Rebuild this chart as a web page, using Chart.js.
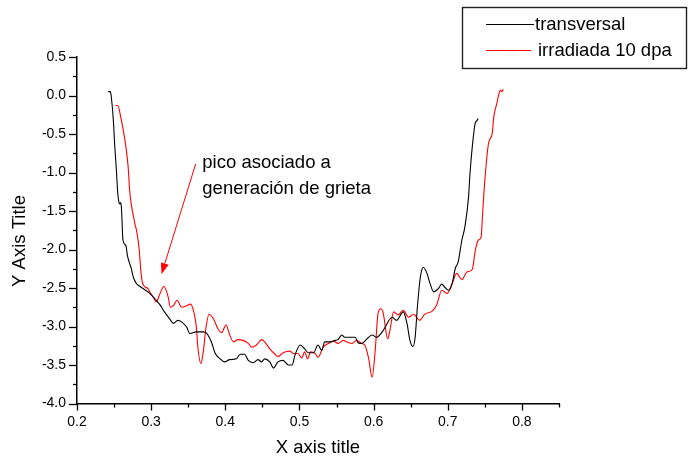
<!DOCTYPE html>
<html lang="es">
<head>
<meta charset="UTF-8">
<title>transversal / irradiada</title>
<style>
  body { margin: 0; background: #fff; }
</style>
</head>
<body>
<canvas id="myChart" width="688" height="461"></canvas>
<script src="https://cdn.jsdelivr.net/npm/chart.js"></script>
<script>
  // curva "transversal"
  const xTransversal = [0.242,0.245,0.246,0.249,0.251,0.253,0.255,0.257,0.258,0.259,
    0.260,0.262,0.266,0.268,0.273,0.276,0.280,0.285,0.291,0.298,
    0.305,0.312,0.318,0.325,0.330,0.336,0.341,0.348,0.352,0.361,
    0.370,0.375,0.382,0.386,0.393,0.399,0.406,0.415,0.420,0.426,
    0.431,0.438,0.444,0.449,0.453,0.460,0.465,0.471,0.478,0.485,
    0.490,0.494,0.501,0.507,0.512,0.519,0.525,0.530,0.534,0.541,
    0.548,0.552,0.557,0.561,0.568,0.575,0.579,0.584,0.591,0.598,
    0.604,0.613,0.625,0.631,0.640,0.645,0.649,0.653,0.656,0.659,
    0.663,0.667,0.672,0.676,0.681,0.687,0.692,0.696,0.701,0.706,
    0.710,0.714,0.719,0.723,0.728,0.730,0.733,0.737,0.739,0.741];
  const yTransversal = [0.05,0.05,0.00,-0.32,-0.67,-0.95,-1.27,-1.40,-1.41,-1.39,
    -1.47,-1.88,-1.95,-2.08,-2.24,-2.36,-2.44,-2.48,-2.52,-2.57,
    -2.64,-2.72,-2.81,-2.90,-2.96,-2.92,-2.94,-3.01,-3.09,-3.07,
    -3.07,-3.09,-3.22,-3.34,-3.42,-3.46,-3.43,-3.42,-3.36,-3.36,
    -3.44,-3.47,-3.43,-3.46,-3.42,-3.46,-3.54,-3.46,-3.44,-3.50,
    -3.50,-3.37,-3.24,-3.29,-3.34,-3.34,-3.24,-3.31,-3.20,-3.20,
    -3.18,-3.17,-3.11,-3.14,-3.14,-3.14,-3.21,-3.22,-3.16,-3.11,
    -3.14,-3.05,-2.88,-2.92,-2.81,-2.96,-3.18,-3.26,-3.14,-2.75,
    -2.36,-2.23,-2.31,-2.44,-2.55,-2.51,-2.45,-2.49,-2.53,-2.44,
    -2.25,-2.16,-1.88,-1.71,-1.32,-1.01,-0.67,-0.36,-0.33,-0.30];

  // curva "irradiada 10 dpa"
  const xIrradiada = [0.252,0.255,0.259,0.262,0.266,0.269,0.271,0.273,0.278,0.281,
    0.284,0.286,0.288,0.291,0.296,0.298,0.303,0.307,0.312,0.317,
    0.321,0.323,0.326,0.330,0.335,0.341,0.348,0.353,0.358,0.361,
    0.363,0.367,0.370,0.374,0.378,0.384,0.390,0.395,0.401,0.406,
    0.411,0.417,0.424,0.431,0.436,0.442,0.449,0.453,0.460,0.467,
    0.471,0.478,0.487,0.492,0.498,0.503,0.507,0.511,0.515,0.521,
    0.525,0.532,0.539,0.546,0.552,0.559,0.564,0.571,0.577,0.584,
    0.588,0.593,0.598,0.602,0.606,0.610,0.613,0.619,0.622,0.627,
    0.633,0.640,0.647,0.654,0.662,0.669,0.679,0.685,0.692,0.699,
    0.706,0.712,0.719,0.726,0.733,0.737,0.741,0.745,0.747,0.750,
    0.755,0.760,0.762,0.766,0.771,0.773,0.775];
  const yIrradiada = [-0.13,-0.13,-0.28,-0.43,-0.67,-0.93,-1.23,-1.40,-1.66,-1.79,
    -2.01,-2.27,-2.42,-2.48,-2.51,-2.55,-2.62,-2.68,-2.57,-2.48,
    -2.55,-2.62,-2.75,-2.73,-2.66,-2.75,-2.73,-2.71,-2.83,-3.01,
    -3.27,-3.48,-3.35,-3.01,-2.84,-2.90,-3.03,-3.08,-2.98,-3.11,
    -3.20,-3.17,-3.18,-3.22,-3.27,-3.24,-3.17,-3.20,-3.29,-3.36,
    -3.39,-3.34,-3.32,-3.35,-3.35,-3.41,-3.33,-3.42,-3.33,-3.35,
    -3.40,-3.27,-3.22,-3.19,-3.22,-3.18,-3.20,-3.22,-3.18,-3.22,
    -3.24,-3.40,-3.66,-3.33,-2.83,-2.77,-2.83,-3.16,-3.05,-2.81,
    -2.85,-2.79,-2.88,-2.84,-2.92,-2.84,-2.80,-2.72,-2.53,-2.57,
    -2.44,-2.31,-2.39,-2.29,-2.26,-2.02,-1.88,-1.84,-1.53,-1.10,
    -0.62,-0.49,-0.28,-0.11,0.07,0.05,0.08];

  const seriesLabels = ['transversal', 'irradiada 10 dpa'];
  const xTitle = 'X axis title';
  const yTitle = 'Y Axis Title';
  const noteLines = ['pico asociado a', 'generación de grieta'];
  // flecha: desde el texto hasta el pico (coordenadas de datos)
  const arrowFrom = { x: 0.360, y: -0.89 };
  const arrowTo = { x: 0.314, y: -2.32 };
  const noteAt = { x: 0.369, y: -0.88, y2: -1.21 };

  const FONT = "'Liberation Sans', Arial, sans-serif";
  Chart.defaults.font.family = FONT;
  Chart.defaults.color = '#000';

  const toPoints = (xs, ys) => xs.map((x, i) => ({ x: x, y: ys[i] }));
  const isMajorX = v => Math.round(v * 100) % 10 === 0;
  const isMajorY = v => Math.round(v * 100) % 50 === 0;

  // ticks, titulos, anotacion y leyenda
  const decorations = {
    id: 'decorations',
    afterDraw(chart) {
      const c = chart.ctx;
      const area = chart.chartArea;
      const xs = chart.scales.x, ys = chart.scales.y;
      c.save();
      c.strokeStyle = '#000';
      c.lineWidth = 1.3;
      xs.ticks.forEach(t => {
        const px = Math.round(xs.getPixelForValue(t.value)) + 0.5;
        const len = isMajorX(t.value) ? 7 : 4;
        c.beginPath();
        c.moveTo(px, area.bottom);
        c.lineTo(px, area.bottom + len);
        c.stroke();
      });
      ys.ticks.forEach(t => {
        const py = Math.round(ys.getPixelForValue(t.value)) + 0.5;
        const len = isMajorY(t.value) ? 8 : 4;
        c.beginPath();
        c.moveTo(area.left - len, py);
        c.lineTo(area.left, py);
        c.stroke();
      });

      // titulos de ejes
      c.fillStyle = '#000';
      c.font = '18.5px ' + FONT;
      c.textAlign = 'center';
      c.textBaseline = 'middle';
      c.fillText(xTitle, (area.left + area.right) / 2, 448);
      c.save();
      c.translate(20, 241);
      c.rotate(-Math.PI / 2);
      c.fillText(yTitle, 0, 0);
      c.restore();

      // anotacion con flecha roja
      const x0 = xs.getPixelForValue(arrowFrom.x), y0 = ys.getPixelForValue(arrowFrom.y);
      const x1 = xs.getPixelForValue(arrowTo.x), y1 = ys.getPixelForValue(arrowTo.y);
      const ang = Math.atan2(y1 - y0, x1 - x0);
      const head = 11, half = 4;
      c.strokeStyle = '#ff0000';
      c.fillStyle = '#ff0000';
      c.lineWidth = 1;
      c.beginPath();
      c.moveTo(x0, y0);
      c.lineTo(x1 - head * Math.cos(ang), y1 - head * Math.sin(ang));
      c.stroke();
      c.beginPath();
      c.moveTo(x1, y1);
      c.lineTo(x1 - head * Math.cos(ang) + half * Math.sin(ang), y1 - head * Math.sin(ang) - half * Math.cos(ang));
      c.lineTo(x1 - head * Math.cos(ang) - half * Math.sin(ang), y1 - head * Math.sin(ang) + half * Math.cos(ang));
      c.closePath();
      c.fill();

      c.fillStyle = '#000';
      c.textAlign = 'left';
      const nx = xs.getPixelForValue(noteAt.x);
      c.fillText(noteLines[0], nx, ys.getPixelForValue(noteAt.y));
      c.fillText(noteLines[1], nx, ys.getPixelForValue(noteAt.y2));

      // leyenda
      c.strokeStyle = '#222';
      c.lineWidth = 1.4;
      c.strokeRect(462.5, 7.5, 224, 61);
      const rows = [{ y: 24, x2: 534, tx: 535 }, { y: 50, x2: 531, tx: 538 }];
      chart.data.datasets.forEach((ds, i) => {
        const r = rows[i];
        c.strokeStyle = ds.borderColor;
        c.lineWidth = 1;
        c.beginPath();
        c.moveTo(486, r.y + 0.5);
        c.lineTo(r.x2, r.y + 0.5);
        c.stroke();
        c.fillStyle = '#000';
        c.fillText(ds.label, r.tx, r.y + 1);
      });
      c.restore();
    }
  };

  new Chart(document.getElementById('myChart'), {
    type: 'line',
    data: {
      datasets: [
        { label: seriesLabels[0], data: toPoints(xTransversal, yTransversal),
          borderColor: '#000000', borderWidth: 1.1, pointRadius: 0,
          cubicInterpolationMode: 'monotone' },
        { label: seriesLabels[1], data: toPoints(xIrradiada, yIrradiada),
          borderColor: '#ff0000', borderWidth: 1.1, pointRadius: 0,
          cubicInterpolationMode: 'monotone' }
      ]
    },
    options: {
      responsive: false,
      animation: false,
      layout: { padding: { left: 0, right: 129, top: 57, bottom: 0 } },
      plugins: { legend: { display: false }, tooltip: { enabled: false } },
      scales: {
        x: {
          type: 'linear',
          min: 0.2, max: 0.85,
          grid: { display: false },
          border: { display: true, color: '#000', width: 1.5 },
          ticks: {
            stepSize: 0.05, autoSkip: false, padding: 2,
            font: { size: 14 },
            callback: v => isMajorX(v) ? v.toFixed(1) : ''
          },
          afterFit: s => { s.height = 57.5; }
        },
        y: {
          type: 'linear',
          min: -4, max: 0.5,
          grid: { display: false },
          border: { display: true, color: '#000', width: 1.5 },
          ticks: {
            stepSize: 0.25, autoSkip: false, padding: 3,
            font: { size: 14 },
            callback: v => isMajorY(v) ? v.toFixed(1) : ''
          },
          afterFit: s => { s.width = 77; }
        }
      }
    },
    plugins: [decorations]
  });
</script>
</body>
</html>
